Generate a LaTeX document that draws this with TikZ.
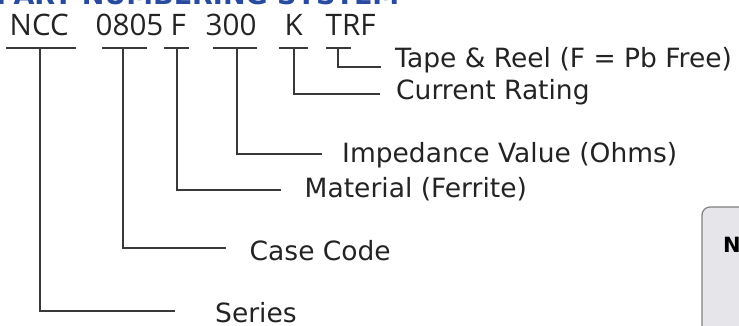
\documentclass[tikz,border=0pt]{standalone}
\usepackage{fontspec}
\setmainfont{DejaVu Sans}
\newfontfamily\codefont{Open Sans}
\definecolor{titleblue}{RGB}{40,75,160}
\definecolor{ink}{RGB}{35,35,35}
\definecolor{notegray}{RGB}{230,230,234}
\tikzset{
  lead/.style={draw=ink!90, line width=1.3pt},
  code/.style={anchor=base west, inner sep=0pt, text=ink, font=\codefont\fontsize{29.6}{30}\selectfont},
  desc/.style={anchor=base west, inner sep=0pt, text=ink, font=\fontsize{26.5}{28}\selectfont},
}
\begin{document}
\begin{tikzpicture}[x=1pt, y=-1pt]
      \useasboundingbox (0,0) rectangle (739,326);
      % title (cut by the page edge)
      \node[anchor=base west, inner sep=0pt, text=titleblue, font=\bfseries\fontsize{27}{28}\selectfont] (title) at (-4,5) {PART NUMBERING SYSTEM};
      % note box
      \draw[draw=gray, fill=notegray, line width=1.2pt, rounded corners=8pt] (702,207) rectangle (780,350);
      \node[anchor=base west, inner sep=0pt, text=black, font=\bfseries\fontsize{21}{22}\selectfont] (note) at (723,252) {N};
      % part number
      \node[code] (ncc)  at (9.5,36)   {NCC};
      \node[code] (case) at (95.5,36)  {0805};
      \node[code] (matl) at (170.5,36) {F};
      \node[code] (imp)  at (205.5,36) {300};
      \node[code] (cur)  at (284.5,36) {K};
      \node[code] (trf)  at (325.5,36) {TRF};
      % descriptions
      \node[desc] (tap-txt) at (395,68)  {Tape \& Reel (F = Pb Free)};
      \node[desc] (cur-txt) at (396,100) {Current Rating};
      \node[desc] (imp-txt) at (342,163) {Impedance Value (Ohms)};
      \node[desc] (mat-txt) at (304.5,197) {Material (Ferrite)};
      \node[desc] (cas-txt) at (249.5,260) {Case Code};
      \node[desc, text depth=0pt] (ser-txt) at (215,322.5) {Series};
      % underlines and leaders
      \foreach \n/\l/\r/\v/\y/\e in {ser/6/76/40/311/175, cas/102/147/123/248/226, mat/164/189/177/190/281,
                                     imp/213/257/237/154/322, cur/279/308/294/94/380, tap/326/351/338/67/381} {
        \coordinate (\n-top) at (\v,48);
        \coordinate (\n-end) at (\e,\y);
        \draw[lead] (\l,48) -- (\r,48);
        \draw[lead] (\n-top) |- (\n-end);
      }
\end{tikzpicture}
\end{document}
